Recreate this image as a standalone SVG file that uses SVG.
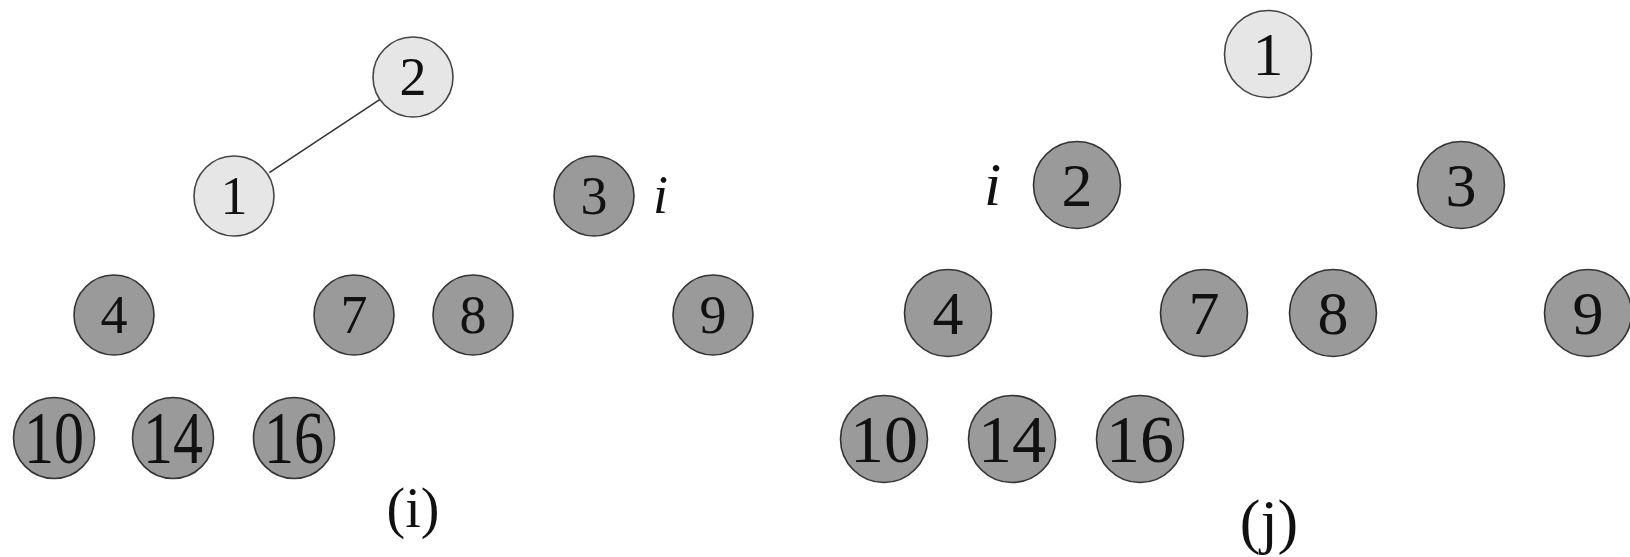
<svg xmlns="http://www.w3.org/2000/svg" width="1630" height="557" viewBox="0 0 1630 557">
<style>
text{font-family:"Liberation Serif","Times New Roman",serif;fill:#111;text-anchor:middle}
.light{fill:#e6e6e6;stroke:#444;stroke-width:1.6}
.dark{fill:#9a9a9a;stroke:#333;stroke-width:1.6}
.lt{font-size:54px}
.lb{font-size:60px}
.rt{font-size:62px}
.rb{font-size:68px}
.it{font-style:italic;text-anchor:start}
.edge{stroke:#333;stroke-width:1.6;fill:none}
</style>
<rect width="1630" height="557" fill="#fff"/>
<g id="connectors">
<line class="edge" x1="269.3" y1="172.7" x2="380" y2="99.3"/>
</g>
<g id="left">
<g id="L2"><circle class="light" cx="413" cy="77" r="40"/><text class="lt" x="413" y="95.3">2</text></g>
<g id="L1"><circle class="light" cx="234" cy="196" r="40"/><text class="lt" x="234" y="214.3">1</text></g>
<g id="L3"><circle class="dark" cx="594" cy="196" r="40"/><text class="lt" x="594" y="214.3">3</text></g>
<text id="Li" class="lt it" x="653" y="213">i</text>
<g id="L4"><circle class="dark" cx="114" cy="315" r="40"/><text class="lt" x="114" y="333.3">4</text></g>
<g id="L7"><circle class="dark" cx="354" cy="315" r="40"/><text class="lt" x="354" y="333.3">7</text></g>
<g id="L8"><circle class="dark" cx="473" cy="315" r="40"/><text class="lt" x="473" y="333.3">8</text></g>
<g id="L9"><circle class="dark" cx="713" cy="315" r="40"/><text class="lt" x="713" y="333.3">9</text></g>
<g id="L10"><circle class="dark" cx="54" cy="438" r="40.5"/><text class="lb" transform="translate(54,438) scale(1,1.25)" x="0" y="20.3">10</text></g>
<g id="L14"><circle class="dark" cx="173" cy="438" r="40.5"/><text class="lb" transform="translate(173,438) scale(1,1.25)" x="0" y="20.3">14</text></g>
<g id="L16"><circle class="dark" cx="294" cy="438" r="40.5"/><text class="lb" transform="translate(294,438) scale(1,1.25)" x="0" y="20.3">16</text></g>
<text id="Lcap" style="font-size:56px" x="413" y="527">(i)</text>
</g>
<g id="right">
<g id="R1"><circle class="light" cx="1268" cy="54" r="43.5"/><text class="rt" x="1268" y="75">1</text></g>
<g id="R2"><circle class="dark" cx="1077" cy="185" r="43.5"/><text class="rt" x="1077" y="206">2</text></g>
<text id="Ri" class="rt it" x="984" y="205">i</text>
<g id="R3"><circle class="dark" cx="1461" cy="185" r="43.5"/><text class="rt" x="1461" y="206">3</text></g>
<g id="R4"><circle class="dark" cx="948" cy="313" r="43.5"/><text class="rt" x="948" y="334">4</text></g>
<g id="R7"><circle class="dark" cx="1204" cy="313" r="43.5"/><text class="rt" x="1204" y="334">7</text></g>
<g id="R8"><circle class="dark" cx="1333" cy="313" r="43.5"/><text class="rt" x="1333" y="334">8</text></g>
<g id="R9"><circle class="dark" cx="1588" cy="313" r="43.5"/><text class="rt" x="1588" y="334">9</text></g>
<g id="R10"><circle class="dark" cx="884" cy="439" r="43.5"/><text class="rb" x="884" y="462">10</text></g>
<g id="R14"><circle class="dark" cx="1012" cy="439" r="43.5"/><text class="rb" x="1012" y="462">14</text></g>
<g id="R16"><circle class="dark" cx="1140" cy="439" r="43.5"/><text class="rb" x="1140" y="462">16</text></g>
<text id="Rcap" style="font-size:62px" x="1269" y="542">(j)</text>
</g>
</svg>
